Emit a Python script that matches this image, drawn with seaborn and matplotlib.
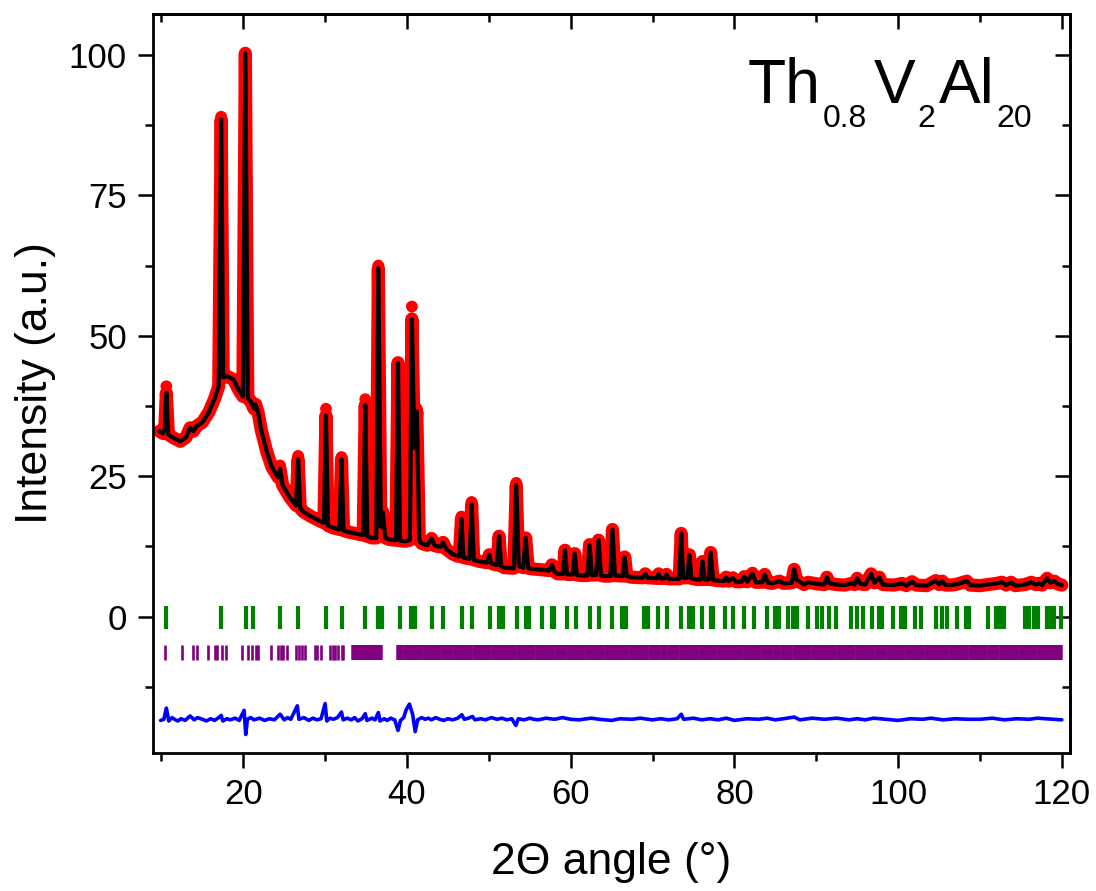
import matplotlib
matplotlib.use("Agg")
import matplotlib.pyplot as plt
from matplotlib.ticker import MultipleLocator
import seaborn as sns

# calculated profile (black line)
two_theta = [
    9.75, 10.2, 10.4, 10.6, 10.85, 11.5, 12.3, 13.0, 13.5, 13.9,
    14.3, 15.0, 15.8, 16.5, 17.0, 17.3, 17.55, 18.0, 18.8, 19.5,
    19.95, 20.25, 20.55, 20.9, 21.3, 21.5, 21.8, 22.2, 22.9, 23.5,
    24.25, 24.5, 24.8, 25.7, 26.45, 26.7, 26.95, 27.3, 28.3, 29.4,
    29.85, 30.1, 30.35, 31.0, 31.75, 32.0, 32.25, 33.0, 34.3, 34.65,
    34.9, 35.15, 35.7, 36.25, 36.5, 36.8, 37.05, 37.35, 37.9, 38.65,
    38.9, 39.15, 39.8, 40.35, 40.6, 40.9, 41.2, 41.5, 41.8, 42.5,
    43.0, 43.4, 44.1, 44.4, 44.8, 45.5, 46.1, 46.4, 46.65, 46.9,
    47.2, 47.65, 47.9, 48.15, 48.9, 49.8, 50.05, 50.3, 50.6, 51.0,
    51.25, 51.5, 51.9, 53.05, 53.35, 53.65, 54.2, 54.5, 54.8, 55.2,
    56.6, 57.4, 57.7, 58.0, 58.4, 59.05, 59.3, 59.55, 60.25, 60.5,
    60.75, 61.3, 62.05, 62.3, 62.6, 63.1, 63.4, 63.7, 64.1, 64.85,
    65.1, 65.4, 66.35, 66.6, 66.85, 67.4, 68.8, 69.1, 69.4, 70.5,
    70.75, 71.0, 71.45, 71.7, 72.0, 72.4, 73.25, 73.5, 73.75, 74.25,
    74.5, 74.75, 75.4, 75.85, 76.1, 76.35, 76.85, 77.1, 77.4, 77.9,
    78.7, 79.0, 79.3, 79.8, 80.2, 80.9, 81.2, 81.6, 82.2, 82.6,
    83.4, 83.7, 84.1, 84.6, 85.5, 86.0, 87.0, 87.3, 87.6, 88.5,
    89.0, 90.2, 91.0, 91.3, 91.6, 92.4, 93.5, 94.3, 94.7, 95.0,
    95.4, 96.0, 96.7, 97.1, 97.7, 98.1, 99.5, 100.5, 101.0, 101.7,
    102.2, 103.5, 104.6, 105.0, 105.4, 105.8, 106.5, 107.3, 108.4, 108.8,
    110.0, 111.0, 112.0, 112.7, 113.2, 113.8, 114.3, 115.5, 116.3, 116.8,
    117.2, 117.6, 118.2, 118.6, 119.1, 119.5, 120.0,
]
y_calc = [
    33.0, 32.6, 33.2, 39.8, 32.4, 31.8, 31.2, 31.9, 33.6, 33.0,
    33.9, 34.6, 36.4, 38.8, 41.0, 88.5, 42.6, 42.8, 42.2, 40.2,
    39.2, 100.3, 38.8, 38.4, 37.0, 37.8, 36.4, 33.2, 29.2, 26.6,
    24.8, 26.3, 23.4, 21.2, 19.8, 28.0, 19.3, 18.7, 17.8, 17.0,
    16.7, 35.8, 16.2, 15.8, 15.5, 28.0, 15.3, 15.0, 14.6, 14.5,
    37.6, 14.3, 14.0, 14.0, 62.0, 16.0, 18.6, 14.0, 13.7, 13.6,
    45.2, 13.5, 13.4, 13.6, 53.0, 30.0, 36.5, 13.6, 13.0, 12.7,
    13.9, 12.6, 12.4, 13.2, 12.0, 11.2, 10.8, 10.7, 17.4, 10.5,
    10.4, 10.3, 20.0, 10.1, 9.8, 9.6, 11.0, 9.5, 9.3, 9.2,
    14.3, 9.0, 8.7, 8.6, 23.4, 9.0, 8.7, 14.0, 8.6, 8.5,
    8.3, 8.2, 9.2, 8.0, 7.6, 7.6, 11.8, 7.5, 7.5, 11.2,
    7.4, 7.3, 7.3, 12.8, 7.4, 7.4, 13.6, 7.3, 7.2, 7.2,
    15.5, 7.3, 7.2, 10.6, 7.2, 7.0, 6.9, 7.6, 6.9, 6.8,
    7.6, 6.8, 6.8, 7.5, 6.7, 6.7, 6.7, 14.8, 6.9, 6.9,
    11.0, 6.8, 6.6, 6.6, 9.8, 6.6, 6.6, 11.4, 6.5, 6.4,
    6.3, 7.0, 6.3, 6.9, 6.2, 6.2, 7.1, 6.2, 7.7, 6.1,
    6.1, 7.5, 6.0, 5.9, 6.3, 5.9, 6.0, 8.4, 6.5, 5.7,
    6.1, 5.8, 5.7, 7.0, 5.9, 5.7, 5.6, 5.9, 5.7, 6.8,
    5.8, 5.7, 7.6, 6.0, 7.0, 5.7, 5.6, 5.9, 5.5, 6.2,
    5.6, 5.5, 6.4, 5.7, 6.3, 5.6, 5.6, 5.8, 6.3, 5.6,
    5.5, 5.7, 5.9, 6.1, 5.6, 6.1, 5.5, 5.7, 6.1, 5.7,
    5.9, 5.6, 6.8, 6.0, 6.3, 5.8, 5.6,
]

# observed points that stand out of the calculated line (peak tops and flanks)
obs_x = [
    10.6, 10.62,
    17.3, 17.29, 17.31, 17.3, 17.31, 17.3, 17.32, 17.29, 17.3, 17.31, 17.29,
    20.25, 20.25, 20.25, 20.26, 20.23, 20.26, 20.23, 20.24, 20.26, 20.25, 20.24, 20.26, 20.24, 20.26,
    24.5, 26.7,
    30.1, 30.1, 30.1, 30.1, 30.1, 30.1,
    32.0,
    34.9, 34.9, 34.9, 34.9, 34.9, 34.9,
    36.5, 36.5, 36.5, 36.5, 36.5, 36.5, 36.5, 36.5, 36.5, 36.5, 36.5, 36.5, 36.5, 36.5,
    38.9, 38.9, 38.9, 38.9, 38.9, 38.9, 38.9, 38.9, 38.9,
    40.6, 40.6, 40.6, 40.6, 40.6, 40.6, 40.6, 40.6, 40.6, 40.6, 40.6, 40.6,
    41.2, 46.65, 47.9, 53.35, 53.35,
]
obs_y = [
    41.0, 37.5,
    89.0, 84.3, 83.0, 73.8, 72.7, 63.6, 62.0, 57.0, 54.0, 49.0, 46.0,
    100.0, 94.4, 91.4, 83.0, 78.8, 69.0, 66.7, 58.3, 56.9, 54.0, 51.6, 48.7, 46.0, 43.4,
    26.9, 28.6,
    37.0, 34.0, 30.0, 26.0, 22.5, 19.0,
    28.4,
    38.7, 34.5, 30.5, 26.5, 22.0, 18.0,
    62.5, 57.0, 54.0, 51.8, 48.8, 45.6, 42.6, 37.7, 34.6, 32.7, 30.2, 27.9, 23.1, 20.8,
    44.5, 41.5, 38.0, 35.0, 31.5, 28.0, 24.5, 21.0, 17.5,
    55.2, 50.5, 48.0, 44.5, 41.0, 37.5, 34.0, 30.5, 27.0, 23.5, 20.0, 16.5,
    37.0, 17.8, 20.4, 23.8, 20.0,
]

# difference curve (blue)
diff_x = [
    9.9, 10.3, 10.6, 10.9, 11.3, 11.6, 12.0, 12.4, 12.9, 13.5,
    14.0, 14.4, 15.0, 15.5, 16.0, 16.5, 17.0, 17.3, 17.5, 18.0,
    18.4, 19.0, 19.5, 20.1, 20.3, 20.5, 20.9, 21.3, 22.0, 22.6,
    23.2, 23.8, 24.5, 25.0, 25.4, 25.8, 26.6, 26.8, 27.4, 28.0,
    28.5, 29.0, 29.5, 30.0, 30.2, 30.6, 31.0, 31.5, 32.0, 32.2,
    32.7, 33.2, 33.6, 34.0, 34.5, 34.9, 35.1, 35.7, 36.1, 36.5,
    36.7, 37.2, 37.6, 38.0, 38.5, 38.9, 39.2, 39.6, 39.9, 40.3,
    40.7, 41.0, 41.3, 41.8, 42.2, 42.6, 43.0, 43.5, 44.0, 44.5,
    45.0, 45.6, 46.2, 46.7, 47.0, 47.5, 48.0, 48.3, 49.0, 49.6,
    50.3, 51.0, 51.6, 52.2, 52.8, 53.3, 53.6, 54.3, 55.0, 55.5,
    56.0, 57.0, 58.0, 59.0, 60.0, 61.0, 62.5, 63.5, 65.0, 66.0,
    67.5, 68.5, 70.0, 71.0, 72.0, 73.0, 73.5, 73.8, 75.0, 76.0,
    77.0, 78.0, 79.0, 80.0, 81.5, 83.0, 84.0, 85.0, 86.0, 87.3,
    88.0, 89.5, 91.0, 92.5, 94.0, 95.0, 96.0, 97.0, 98.5, 100.0,
    101.5, 103.0, 104.0, 105.5, 107.0, 108.5, 110.0, 111.5, 113.0, 114.5,
    116.0, 117.0, 118.0, 119.0, 120.0,
]
diff_y = [
    -18.5, -18.3, -16.3, -18.6, -18.0, -18.3, -18.6, -18.2, -18.5, -17.7,
    -18.4, -18.0, -18.3, -18.6, -18.2, -18.5, -18.0, -17.6, -18.6, -18.2,
    -18.4, -18.1, -18.5, -16.7, -21.0, -18.3, -18.0, -18.4, -18.1, -18.5,
    -18.2, -18.4, -17.4, -18.4, -18.0, -18.3, -15.9, -18.3, -18.0, -18.5,
    -18.1, -18.4, -18.2, -15.5, -18.6, -18.1, -18.3, -18.0, -17.0, -18.4,
    -18.1, -18.4, -18.0, -18.6, -18.2, -17.3, -18.5, -18.1, -18.4, -17.1,
    -18.6, -18.2, -18.5, -18.1, -18.4, -20.3, -18.5, -18.0, -16.6, -15.6,
    -17.5, -20.5, -18.4, -18.0, -18.3, -18.1, -18.4, -18.0, -18.3, -18.5,
    -18.2, -18.4, -18.1, -17.5, -18.3, -18.1, -17.8, -18.4, -18.2, -18.4,
    -18.0, -18.3, -18.1, -18.4, -18.2, -19.4, -18.2, -18.4, -18.1, -18.3,
    -18.4, -18.1, -18.3, -18.0, -18.3, -18.4, -18.1, -18.3, -18.5, -18.2,
    -18.3, -18.1, -18.4, -18.2, -18.4, -18.2, -17.4, -18.3, -18.1, -18.4,
    -18.2, -18.4, -18.1, -18.5, -18.2, -18.3, -18.1, -18.4, -18.2, -17.9,
    -18.4, -18.1, -18.3, -18.1, -18.4, -18.2, -18.4, -18.1, -18.3, -18.5,
    -18.2, -18.3, -18.1, -18.4, -18.2, -18.3, -18.3, -18.1, -18.4, -18.2,
    -18.3, -18.1, -18.2, -18.3, -18.4,
]

# Bragg positions
green_ticks = [
    10.6, 17.3, 20.3, 21.2, 24.5, 26.7, 30.1, 32.0, 34.9, 36.4,
    37.0, 39.1, 40.5, 41.0, 43.0, 44.4, 46.7, 47.9, 50.1, 51.2,
    51.7, 53.4, 54.5, 54.9, 56.5, 57.7, 58.0, 59.5, 60.7, 62.4,
    63.5, 65.1, 66.3, 66.8, 69.0, 69.5, 70.7, 71.8, 73.5, 74.4,
    74.9, 76.1, 77.1, 77.4, 78.8, 79.8, 81.2, 82.4, 84.0, 85.0,
    85.5, 86.5, 87.1, 87.7, 89.0, 90.1, 90.7, 91.6, 92.4, 94.3,
    95.0, 95.7, 96.8, 97.7, 98.0, 99.4, 100.4, 100.9, 102.0, 102.8,
    104.6, 105.4, 106.0, 107.2, 108.3, 108.7, 111.0, 112.0, 112.4, 112.9,
    115.5, 116.0, 116.6, 117.1, 118.2, 118.7, 119.1, 119.9,
]
purple_ticks = [
    10.4, 12.5, 13.9, 14.3, 15.7, 16.6, 16.8, 17.4, 17.9, 19.9,
    20.6, 21.1, 21.5, 21.8, 23.4, 24.3, 24.6, 24.9, 25.4, 26.5,
    26.8, 27.2, 27.6, 28.7, 29.0, 29.5, 30.6, 31.0, 31.2, 31.6,
    32.1, 32.2,
]
purple_ticks_dense = [
    33.7, 34.4, 35.1, 35.8, 36.6,
    39.2, 40.0, 40.7, 41.5, 42.3, 43.0, 43.8, 44.6, 45.3, 46.1,
    46.9, 47.6, 48.4, 49.2, 49.9, 50.7, 51.5, 52.2, 53.0, 53.8,
    54.5, 55.3, 56.1, 56.8, 57.6, 58.4, 59.1, 59.9, 60.7, 61.4,
    62.2, 63.0, 63.7, 64.5, 65.3, 66.0, 66.8, 67.6, 68.3, 69.1,
    69.9, 70.6, 71.4, 72.2, 72.9, 73.7, 74.5, 75.2, 76.0, 76.8,
    77.5, 78.3, 79.1, 79.8, 80.6, 81.4, 82.1, 82.9, 83.7, 84.4,
    85.2, 86.0, 86.7, 87.5, 88.3, 89.0, 89.8, 90.6, 91.3, 92.1,
    92.9, 93.6, 94.4, 95.2, 95.9, 96.7, 97.5, 98.2, 99.0, 99.8,
    100.5, 101.3, 102.1, 102.8, 103.6, 104.4, 105.1, 105.9, 106.7, 107.4,
    108.2, 109.0, 109.7, 110.5, 111.3, 112.0, 112.8, 113.6, 114.3, 115.1,
    115.9, 116.6, 117.4, 118.2, 118.9, 119.6,
]

x_ticks = [20, 40, 60, 80, 100, 120]
y_ticks = [0, 25, 50, 75, 100]

assert len(two_theta) == len(y_calc)
assert len(obs_x) == len(obs_y)
assert len(diff_x) == len(diff_y)

sns.set_style("ticks")
plt.rcParams["font.family"] = ["Liberation Sans", "DejaVu Sans"]
plt.rcParams["text.color"] = "black"
plt.rcParams["axes.labelcolor"] = "black"
plt.rcParams["xtick.color"] = "black"
plt.rcParams["ytick.color"] = "black"

fig = plt.figure(figsize=(10.96, 8.91), dpi=100)
ax = fig.add_axes([0.1396, 0.1549, 0.8367, 0.8294])

# observed band, observed dots, calculated line
sns.lineplot(x=two_theta, y=y_calc, ax=ax, color="red", lw=9.5, sort=False,
             estimator=None, solid_joinstyle="round", solid_capstyle="round", zorder=2)
sns.scatterplot(x=obs_x, y=obs_y, ax=ax, color="red", s=72, edgecolor="none",
                linewidth=0, zorder=2.5)
sns.lineplot(x=two_theta, y=y_calc, ax=ax, color="black", lw=3, sort=False,
             estimator=None, zorder=3)

# Bragg ticks
ax.vlines(green_ticks, -2.2, 1.9, colors="#008000", lw=3.0, capstyle="butt")
ax.vlines(purple_ticks, -7.7, -5.0, colors="#800080", lw=1.9, capstyle="butt")
ax.vlines(purple_ticks_dense, -7.7, -5.0, colors="#800080", lw=5.4, capstyle="butt")

# difference
sns.lineplot(x=diff_x, y=diff_y, ax=ax, color="blue", lw=2.6, sort=False, estimator=None)

ax.set_xlim(8.97, 121.0)
ax.set_ylim(-24.3, 107.3)
ax.set_xticks(x_ticks)
ax.set_yticks(y_ticks)
ax.xaxis.set_minor_locator(MultipleLocator(10))
ax.yaxis.set_minor_locator(MultipleLocator(12.5))
ax.tick_params(which="major", direction="out", length=10.8, width=1.8,
               labelsize=25, color="black", labelcolor="black")
ax.tick_params(which="minor", direction="out", length=5.8, width=1.8, color="black")
ax.tick_params(axis="x", pad=7)
ax.tick_params(axis="y", pad=8)

# inward ticks on the top and right sides
top = ax.secondary_xaxis("top")
top.set_xticks(x_ticks)
top.xaxis.set_minor_locator(MultipleLocator(10))
top.tick_params(which="major", direction="in", length=10.8, width=1.8, labeltop=False)
top.tick_params(which="minor", direction="in", length=5.8, width=1.8)
right = ax.secondary_yaxis("right")
right.set_yticks(y_ticks)
right.yaxis.set_minor_locator(MultipleLocator(12.5))
right.tick_params(which="major", direction="in", length=10.8, width=1.8, labelright=False)
right.tick_params(which="minor", direction="in", length=5.8, width=1.8)

for a in (ax, top, right):
    for sp in a.spines.values():
        sp.set_linewidth(2.0)
        sp.set_color("black")

ax.set_xlabel("2\u0398 angle (\u00b0)", fontsize=32, color="black")
ax.set_ylabel("Intensity (a.u.)", fontsize=32, color="black")
ax.xaxis.set_label_coords(0.5, -0.1204)
ax.yaxis.set_label_coords(-0.1058, 0.5)

# compound name with subscripts
for s, x, y, fs in [("Th", 0.6489, 0.8796, 45), ("0.8", 0.7306, 0.8471, 23),
                    ("V", 0.7863, 0.8796, 45), ("2", 0.8332, 0.8471, 23),
                    ("Al", 0.8571, 0.8796, 45), ("20", 0.9193, 0.8471, 23)]:
    ax.text(x, y, s, transform=ax.transAxes, fontsize=fs, ha="left",
            va="baseline", color="black")

fig.savefig("out.png", dpi=100)
